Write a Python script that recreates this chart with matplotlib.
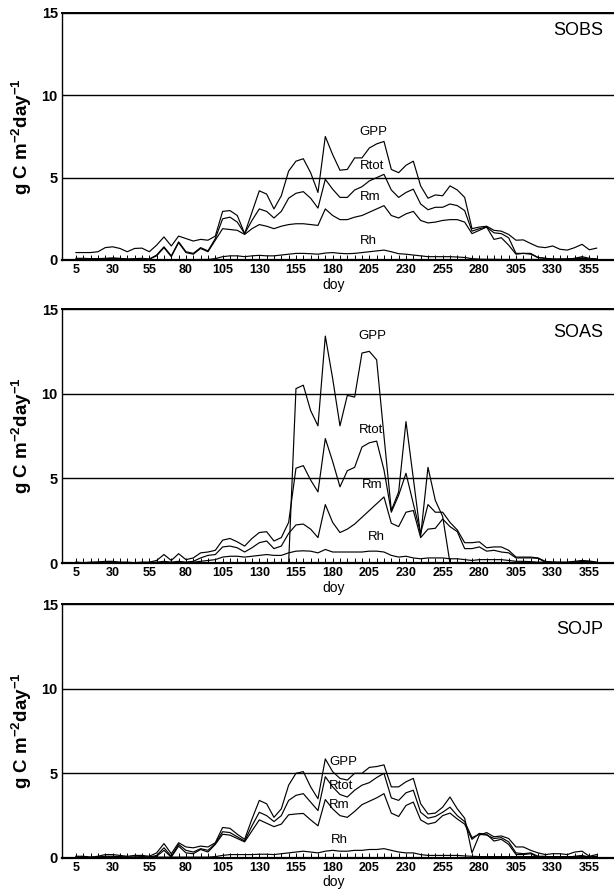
import matplotlib
matplotlib.use("Agg")
import matplotlib.pyplot as plt
import numpy as np

plt.rcParams["font.family"] = ["Liberation Sans", "DejaVu Sans"]
plt.rcParams["mathtext.fontset"] = "custom"
plt.rcParams["mathtext.rm"] = "Liberation Sans:bold"
plt.rcParams["mathtext.it"] = "Liberation Sans:italic"
plt.rcParams["mathtext.bf"] = "Liberation Sans:bold"

# день года, шаг 5 дней
doy = np.arange(5, 361, 5)

# SOBS
sobs_gpp = [0.45, 0.45, 0.45, 0.5, 0.75, 0.8, 0.7, 0.5, 0.7, 0.72, 0.5, 0.9,
            1.4, 0.85, 1.45, 1.3, 1.15, 1.25, 1.2, 1.45, 2.95, 3.0, 2.7, 1.6,
            2.9, 4.2, 4.0, 3.1, 3.9, 5.4, 6.0, 6.15, 5.3, 4.1, 7.5, 6.4,
            5.45, 5.5, 6.2, 6.2, 6.8, 7.05, 7.2, 5.5, 5.3, 5.75, 6.0, 4.5,
            3.75, 3.95, 3.9, 4.5, 4.25, 3.8, 1.9, 2.0, 2.05, 1.8, 1.75, 1.55,
            1.2, 1.22, 1.0, 0.8, 0.75, 0.85, 0.65, 0.6, 0.75, 0.95, 0.62, 0.72]
sobs_rtot = [0.1, 0.1, 0.08, 0.08, 0.1, 0.12, 0.1, 0.05, 0.08, 0.1, 0.05, 0.3,
             0.8, 0.25, 1.1, 0.5, 0.4, 0.75, 0.55, 1.3, 2.5, 2.6, 2.3, 1.6,
             2.4, 3.1, 2.95, 2.55, 2.95, 3.75, 4.05, 4.15, 3.75, 3.15, 4.9, 4.3,
             3.8, 3.8, 4.25, 4.45, 4.8, 5.0, 5.2, 4.25, 3.8, 4.1, 4.3, 3.4,
             3.05, 3.2, 3.2, 3.4, 3.3, 3.0, 1.75, 1.9, 2.0, 1.65, 1.6, 1.35,
             0.4, 0.4, 0.4, 0.15, 0.1, 0.05, 0.05, 0.05, 0.1, 0.2, 0.1, 0.05]
sobs_rm = [0.05, 0.05, 0.05, 0.05, 0.08, 0.1, 0.08, 0.05, 0.05, 0.08, 0.05, 0.25,
           0.75, 0.2, 1.05, 0.45, 0.35, 0.7, 0.5, 1.2, 1.9, 1.85, 1.8, 1.55,
           1.9, 2.15, 2.05, 1.9, 2.05, 2.15, 2.2, 2.2, 2.15, 2.1, 3.1, 2.7,
           2.45, 2.45, 2.6, 2.7, 2.9, 3.1, 3.3, 2.7, 2.55, 2.8, 2.95, 2.4,
           2.25, 2.3, 2.4, 2.45, 2.45, 2.3, 1.6, 1.8, 2.0, 1.25, 1.35, 0.9,
           0.35, 0.4, 0.35, 0.15, 0.1, 0.05, 0.05, 0.05, 0.08, 0.12, 0.05, 0.05]
sobs_rh = [0.02, 0.02, 0.03, 0.03, 0.02, 0.02, 0.03, 0.02, 0.02, 0.02, 0.02, 0.02,
           0.02, 0.02, 0.02, 0.02, 0.02, 0.03, 0.03, 0.08, 0.2, 0.25, 0.25, 0.2,
           0.25, 0.28, 0.25, 0.25, 0.3, 0.35, 0.4, 0.4, 0.38, 0.35, 0.42, 0.45,
           0.4, 0.38, 0.4, 0.45, 0.5, 0.55, 0.6, 0.5, 0.38, 0.35, 0.3, 0.25,
           0.2, 0.2, 0.2, 0.2, 0.18, 0.15, 0.08, 0.05, 0.04, 0.04, 0.03, 0.03,
           0.03, 0.03, 0.03, 0.03, 0.03, 0.03, 0.03, 0.05, 0.08, 0.1, 0.05, 0.04]

# SOAS
soas_gpp = [0, 0, 0, 0, 0, 0, 0, 0, 0, 0, 0, 0,
            0, 0, 0, 0, 0, 0, 0, 0, 0, 0, 0, 0,
            0, 0, 0, 0, 0, 0, 10.3, 10.5, 9.0, 8.1, 13.4, 10.9,
            8.1, 9.9, 9.8, 12.4, 12.5, 12.0, 7.5, 3.1, 4.2, 8.35, 5.0, 1.6,
            5.65, 3.7, 2.75, 0, 0, 0, 0, 0, 0, 0, 0, 0,
            0, 0, 0, 0, 0, 0, 0, 0, 0, 0, 0, 0]
soas_rtot = [0.05, 0.02, 0.05, 0.05, 0.1, 0.1, 0.05, 0.05, 0.02, 0.05, 0.05, 0.15,
             0.5, 0.15, 0.55, 0.2, 0.3, 0.6, 0.65, 0.75, 1.35, 1.45, 1.25, 1.0,
             1.45, 1.8, 1.85, 1.3, 1.5, 2.4, 5.6, 5.75, 4.9, 4.2, 7.35, 6.0,
             4.5, 5.45, 5.65, 6.85, 7.1, 7.2, 5.5, 3.0, 4.0, 5.3, 3.5, 1.75,
             3.45, 3.0, 3.0, 2.4, 1.95, 1.2, 1.2, 1.25, 0.9, 0.95, 0.95, 0.75,
             0.35, 0.35, 0.35, 0.3, 0.1, 0.05, 0.05, 0.05, 0.1, 0.15, 0.12, 0.05]
soas_rm = [0.03, 0.02, 0.03, 0.05, 0.08, 0.05, 0.03, 0.03, 0.02, 0.03, 0.03, 0.05,
           0.1, 0.05, 0.1, 0.05, 0.1, 0.3, 0.45, 0.5, 0.95, 1.0, 0.9, 0.65,
           0.9, 1.2, 1.3, 0.85, 1.0, 1.75, 2.25, 2.3, 2.0, 1.5, 3.45, 2.4,
           1.8, 2.0, 2.3, 2.7, 3.1, 3.5, 3.9, 2.35, 2.15, 3.0, 3.1, 1.5,
           2.0, 2.05, 2.6, 2.15, 1.85, 0.85, 0.85, 0.95, 0.7, 0.75, 0.65, 0.6,
           0.3, 0.3, 0.3, 0.28, 0.05, 0.03, 0.03, 0.03, 0.05, 0.1, 0.08, 0.03]
soas_rh = [0.02, 0.02, 0.02, 0.03, 0.05, 0.03, 0.02, 0.02, 0.02, 0.02, 0.02, 0.02,
           0.02, 0.02, 0.03, 0.03, 0.05, 0.1, 0.15, 0.2, 0.35, 0.4, 0.4, 0.35,
           0.4, 0.45, 0.5, 0.45, 0.45, 0.6, 0.7, 0.72, 0.7, 0.6, 0.8, 0.65,
           0.65, 0.65, 0.65, 0.65, 0.7, 0.7, 0.65, 0.45, 0.35, 0.4, 0.3, 0.25,
           0.3, 0.3, 0.3, 0.25, 0.25, 0.2, 0.15, 0.2, 0.2, 0.2, 0.2, 0.15,
           0.1, 0.1, 0.08, 0.05, 0.05, 0.05, 0.03, 0.03, 0.05, 0.05, 0.03, 0.03]

# SOJP
sojp_gpp = [0.1, 0.1, 0.05, 0.1, 0.2, 0.2, 0.15, 0.1, 0.15, 0.15, 0.1, 0.3,
            0.85, 0.25, 0.9, 0.65, 0.6, 0.7, 0.65, 0.9, 1.8, 1.75, 1.4, 1.1,
            2.3, 3.4, 3.2, 2.4, 2.9, 4.3, 5.0, 5.1, 4.2, 3.5, 5.85, 5.1,
            4.7, 4.6, 5.0, 5.0, 5.35, 5.4, 5.5, 4.2, 4.2, 4.5, 4.7, 3.2,
            2.6, 2.65, 3.0, 3.6, 2.9, 2.35, 0.3, 1.35, 1.5, 1.25, 1.3, 1.15,
            0.65, 0.65, 0.45, 0.3, 0.2, 0.25, 0.25, 0.2, 0.35, 0.4, 0.1, 0.2]
sojp_rtot = [0.05, 0.05, 0.03, 0.05, 0.1, 0.1, 0.08, 0.05, 0.05, 0.08, 0.05, 0.15,
             0.6, 0.1, 0.8, 0.45, 0.35, 0.55, 0.45, 0.85, 1.55, 1.5, 1.25, 1.0,
             1.9, 2.7, 2.5, 2.15, 2.5, 3.4, 3.7, 3.8, 3.3, 2.8, 4.8, 4.2,
             3.75, 3.6, 4.0, 4.3, 4.45, 4.75, 5.0, 3.55, 3.4, 3.85, 4.0, 2.7,
             2.35, 2.45, 2.7, 3.0, 2.5, 2.15, 1.2, 1.4, 1.35, 1.15, 1.2, 0.95,
             0.3, 0.25, 0.3, 0.1, 0.1, 0.05, 0.05, 0.05, 0.1, 0.15, 0.05, 0.1]
sojp_rm = [0.03, 0.03, 0.02, 0.03, 0.05, 0.05, 0.05, 0.03, 0.03, 0.05, 0.03, 0.1,
           0.45, 0.05, 0.7, 0.3, 0.25, 0.5, 0.35, 0.8, 1.4, 1.35, 1.15, 0.95,
           1.6, 2.25, 2.05, 1.85, 2.0, 2.55, 2.6, 2.63, 2.25, 1.9, 3.45, 2.9,
           2.5, 2.4, 2.75, 3.15, 3.35, 3.55, 3.8, 2.65, 2.45, 3.1, 3.3, 2.25,
           2.0, 2.1, 2.5, 2.65, 2.3, 2.0, 1.1, 1.45, 1.4, 1.0, 1.1, 0.8,
           0.2, 0.2, 0.25, 0.05, 0.05, 0.03, 0.03, 0.03, 0.05, 0.08, 0.03, 0.05]
sojp_rh = [0.05, 0.05, 0.03, 0.05, 0.05, 0.05, 0.05, 0.05, 0.05, 0.05, 0.05, 0.05,
           0.05, 0.05, 0.05, 0.05, 0.05, 0.05, 0.05, 0.08, 0.15, 0.2, 0.2, 0.2,
           0.2, 0.22, 0.22, 0.2, 0.25, 0.3, 0.35, 0.4, 0.35, 0.3, 0.4, 0.45,
           0.4, 0.4, 0.45, 0.45, 0.5, 0.5, 0.55, 0.45, 0.35, 0.3, 0.3, 0.2,
           0.15, 0.15, 0.15, 0.15, 0.15, 0.12, 0.1, 0.08, 0.08, 0.08, 0.08, 0.08,
           0.08, 0.08, 0.08, 0.08, 0.08, 0.08, 0.08, 0.08, 0.08, 0.08, 0.08, 0.08]

sites = ["SOBS", "SOAS", "SOJP"]
series_names = ["GPP", "Rtot", "Rm", "Rh"]
site_series = [
    [sobs_gpp, sobs_rtot, sobs_rm, sobs_rh],
    [soas_gpp, soas_rtot, soas_rm, soas_rh],
    [sojp_gpp, sojp_rtot, sojp_rm, sojp_rh],
]
major_ticks = np.arange(5, 356, 25)

# положения панелей (доли фигуры) и подписей кривых
boxes = [
    [0.101, 0.7079, 0.909, 0.2775],
    [0.101, 0.3674, 0.909, 0.2854],
    [0.101, 0.0360, 0.909, 0.2853],
]
curve_label_pos = [
    [(198.5, 7.8), (198.5, 5.7), (198.5, 3.85), (198.5, 1.15)],
    [(197.5, 13.4), (198, 7.85), (200, 4.6), (204, 1.55)],
    [(177.5, 5.67), (177.5, 4.25), (177.5, 3.12), (179, 1.06)],
]
site_label_y = [13.95, 13.6, 13.5]

fig = plt.figure(figsize=(6.14, 8.9), dpi=100)

for i, site in enumerate(sites):
    ax = fig.add_axes(boxes[i])
    for vals in site_series[i]:
        ax.plot(doy, vals, color="black", lw=0.85)

    ax.set_xlim(-4.5, 376)
    ax.set_ylim(0, 15)
    ax.set_yticks([0, 5, 10, 15])
    ax.grid(axis="y", color="black", lw=1.0)
    ax.set_axisbelow(True)

    ax.set_xticks(major_ticks)
    ax.set_xticks(doy, minor=True)
    ax.tick_params(axis="x", which="both", direction="in", length=3.5,
                   width=0.7, pad=3, labelsize=9)
    ax.tick_params(axis="y", length=0, pad=3, labelsize=10.5)
    for lab in ax.get_xticklabels() + ax.get_yticklabels():
        lab.set_fontweight("bold")

    ax.spines["right"].set_visible(False)
    ax.spines["top"].set_linewidth(1.4)
    ax.spines["bottom"].set_linewidth(1.6)
    ax.spines["left"].set_linewidth(1.0)

    ax.set_xlabel("doy", fontsize=10)
    ax.xaxis.set_label_coords(0.487, -0.072 if i == 0 else -0.069)
    ax.set_ylabel(r"g C m$^{-2}$day$^{-1}$", fontsize=13.5, fontweight="bold")
    ax.yaxis.set_label_coords(-0.05, 0.5)

    for name, (x, y) in zip(series_names, curve_label_pos[i]):
        ax.text(x, y, name, fontsize=9.5, ha="left", va="center")
    ax.text(364.5, site_label_y[i], site, fontsize=13, ha="right", va="center")

fig.savefig("out.png", dpi=100)
